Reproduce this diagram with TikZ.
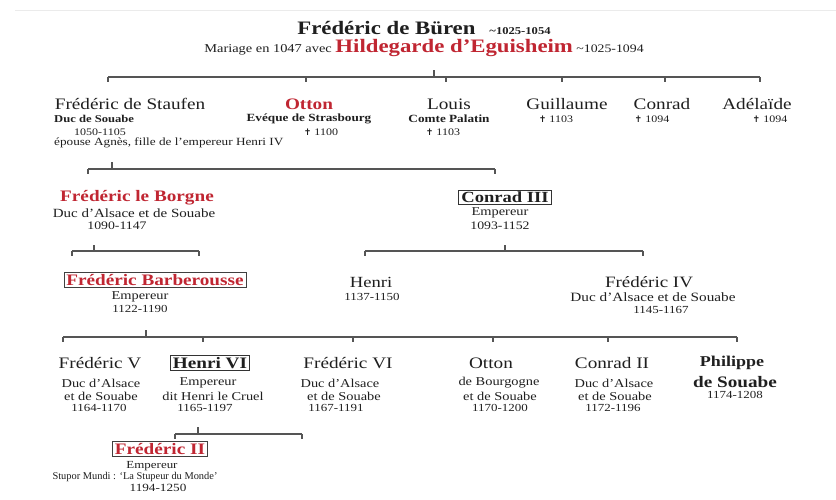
\documentclass[tikz,border=0pt]{standalone}
\usepackage{fontspec}
\setmainfont{Liberation Serif}[FakeStretch=1.2]
\newfontfamily\plainf{Liberation Serif}
\newfontfamily\symf{DejaVu Sans}
\definecolor{rd}{RGB}{192,38,50}
\definecolor{ln}{RGB}{85,85,85}
\newcommand{\fz}[1]{\fontsize{#1}{#1}\selectfont}
\newcommand{\crx}{{\symf\fz{9}✝}}
\begin{document}
\begin{tikzpicture}[x=1pt,y=-1pt,
  t/.style={inner sep=0pt, text=black!88},
  rn/.style={t, text=rd, font=\bfseries\fz{16}},
  pbox/.style={draw=black!80, line width=0.8pt, inner xsep=2.5pt, inner ysep=1.5pt},
  bar/.style={draw=ln, line width=1.1pt},
  tk/.style={draw=ln, line width=1.1pt}]
\useasboundingbox (0,0) rectangle (836,499);
\fill[white] (0,0) rectangle (836,499);
\draw[black!8, line width=0.6pt] (15,10) -- (836,10);

% header
\node[t] (head) at (424,28) {{\bfseries\fz{19}Frédéric de Büren}\hspace{14pt}{\bfseries\fz{10.5}\textasciitilde1025-1054}};
\node[t] (marr) at (424,48) {{\fz{12}Mariage en 1047 avec }{\bfseries\color{rd}\fz{19}Hildegarde d’Eguisheim}{\fz{11.5} \textasciitilde1025-1094}};

% bar A
\coordinate (A1) at (108,77); \coordinate (A2) at (760,77); \coordinate (Au) at (434,77);
\draw[bar] (A1) -- (A2);
\draw[tk] (Au) -- ++(0,-7);
\foreach \x in {108,306,446,562,665,760} \draw[tk] (\x,77) -- ++(0,5);

% row 1
\node[t, font=\fz{16}] (staufen) at (130,104) {Frédéric de Staufen};
\node[t, anchor=west, font=\bfseries\fz{10.5}] (staufen1) at (54,119) {Duc de Souabe};
\node[t, font=\fz{10}] (staufen2) at (100,132) {1050-1105};
\node[t, anchor=west, font=\fz{11}] (staufen3) at (54,143) {épouse Agnès, fille de l’empereur Henri IV};

\node[rn] (otton) at (309,104) {Otton};
\node[t, font=\bfseries\fz{11}] (otton1) at (309,119) {Evéque de Strasbourg};
\node[t, font=\fz{10}] (otton2) at (321,132) {\crx\ 1100};

\node[t, font=\fz{16}] (louis) at (449,104) {Louis};
\node[t, font=\bfseries\fz{11}] (louis1) at (449,119) {Comte Palatin};
\node[t, font=\fz{10}] (louis2) at (443,132) {\crx\ 1103};

\node[t, font=\fz{16}] (guill) at (567,104) {Guillaume};
\node[t, font=\fz{10}] (guill1) at (556,119) {\crx\ 1103};

\node[t, font=\fz{16}] (conrad) at (662,104) {Conrad};
\node[t, font=\fz{10}] (conrad1) at (652,119) {\crx\ 1094};

\node[t, font=\fz{16}] (adel) at (757,104) {Adélaïde};
\node[t, font=\fz{10}] (adel1) at (770,119) {\crx\ 1094};

% bar B
\coordinate (B1) at (88,169); \coordinate (B2) at (495,169); \coordinate (Bu) at (112,169);
\draw[bar] (B1) -- (B2);
\draw[tk] (Bu) -- ++(0,-7);
\foreach \x in {88,495} \draw[tk] (\x,169) -- ++(0,5);

% row 2
\node[rn] (borgne) at (137,198) {Frédéric le Borgne};
\node[t, font=\fz{12.5}] (borgne1) at (134,213) {Duc d’Alsace et de Souabe};
\node[t, font=\fz{11.5}] (borgne2) at (117,226) {1090-1147};

\node[t, pbox, font=\bfseries\fz{15.5}] (conrad3) at (505,197) {Conrad III};
\node[t, font=\fz{12}] (conrad31) at (500,213) {Empereur};
\node[t, font=\fz{11.5}] (conrad32) at (500,226) {1093-1152};

% bars C, D
\coordinate (C1) at (72,251); \coordinate (C2) at (199,251); \coordinate (Cu) at (94,251);
\draw[bar] (C1) -- (C2);
\draw[tk] (Cu) -- ++(0,-6);
\foreach \x in {72,199} \draw[tk] (\x,251) -- ++(0,5);

\coordinate (D1) at (365,251); \coordinate (D2) at (643,251); \coordinate (Du) at (505,251);
\draw[bar] (D1) -- (D2);
\draw[tk] (Du) -- ++(0,-6);
\foreach \x in {365,643} \draw[tk] (\x,251) -- ++(0,5);

% row 3
\node[rn, pbox, draw=black!75] (barb) at (155,280) {Frédéric Barberousse};
\node[t, font=\fz{12}] (barb1) at (140,297) {Empereur};
\node[t, font=\fz{10.8}] (barb2) at (140,309) {1122-1190};

\node[t, font=\fz{15.5}] (henri) at (371,282) {Henri};
\node[t, font=\fz{10.8}] (henri1) at (372,297) {1137-1150};

\node[t, font=\fz{15.8}] (fred4) at (649,282) {Frédéric IV};
\node[t, font=\fz{12.7}] (fred41) at (653,297) {Duc d’Alsace et de Souabe};
\node[t, font=\fz{10.8}] (fred42) at (661,310) {1145-1167};

% bar E
\coordinate (E1) at (63,337); \coordinate (E2) at (737,337); \coordinate (Eu) at (146,337);
\draw[bar] (E1) -- (E2);
\draw[tk] (Eu) -- ++(0,-7);
\foreach \x in {63,203,353,493,608,737} \draw[tk] (\x,337) -- ++(0,5);

% row 4
\node[t, font=\fz{16}] (fred5) at (100,363) {Frédéric V};
\node[t, font=\fz{12}] (fred51) at (101,383) {Duc d’Alsace};
\node[t, font=\fz{12}] (fred52) at (101,396) {et de Souabe};
\node[t, font=\fz{10.8}] (fred53) at (99,408) {1164-1170};

\node[t, pbox, font=\bfseries\fz{16}] (henri6) at (210,363) {Henri VI};
\node[t, font=\fz{12}] (henri61) at (208,383) {Empereur};
\node[t, font=\fz{12}] (henri62) at (213,396) {dit Henri le Cruel};
\node[t, font=\fz{10.8}] (henri63) at (205,408) {1165-1197};

\node[t, font=\fz{16}] (fred6) at (348,363) {Frédéric VI};
\node[t, font=\fz{12}] (fred61) at (340,383) {Duc d’Alsace};
\node[t, font=\fz{12}] (fred62) at (344,396) {et de Souabe};
\node[t, font=\fz{10.8}] (fred63) at (336,408) {1167-1191};

\node[t, font=\fz{16}] (otton2n) at (491,363) {Otton};
\node[t, font=\fz{12}] (otton21) at (499,383) {de Bourgogne};
\node[t, font=\fz{12}] (otton22) at (500,396) {et de Souabe};
\node[t, font=\fz{10.8}] (otton23) at (500,408) {1170-1200};

\node[t, font=\fz{16}] (conrad2) at (612,363) {Conrad II};
\node[t, font=\fz{12}] (conrad21) at (614,383) {Duc d’Alsace};
\node[t, font=\fz{12}] (conrad22) at (615,396) {et de Souabe};
\node[t, font=\fz{10.8}] (conrad23) at (613,408) {1172-1196};

\node[t, font=\bfseries\fz{15}] (phil) at (732,363) {Philippe};
\node[t, font=\bfseries\fz{16}] (phil1) at (735,382) {de Souabe};
\node[t, font=\fz{10.8}] (phil2) at (735,395) {1174-1208};

% bar F
\coordinate (F1) at (175,434); \coordinate (F2) at (302,434); \coordinate (Fu) at (198,434);
\draw[bar] (F1) -- (F2);
\draw[tk] (Fu) -- ++(0,-7);
\foreach \x in {175,302} \draw[tk] (\x,434) -- ++(0,5);

% row 5
\node[rn, pbox, draw=black!75] (fred2) at (160,449) {Frédéric II};
\node[t, font=\fz{10.8}] (fred21) at (152,466) {Empereur};
\node[t, font=\plainf\fz{10.4}] (fred22) at (135,477) {Stupor Mundi : ‘La Stupeur du Monde’};
\node[t, font=\fz{11}] (fred23) at (158,488) {1194-1250};
\end{tikzpicture}
\end{document}
